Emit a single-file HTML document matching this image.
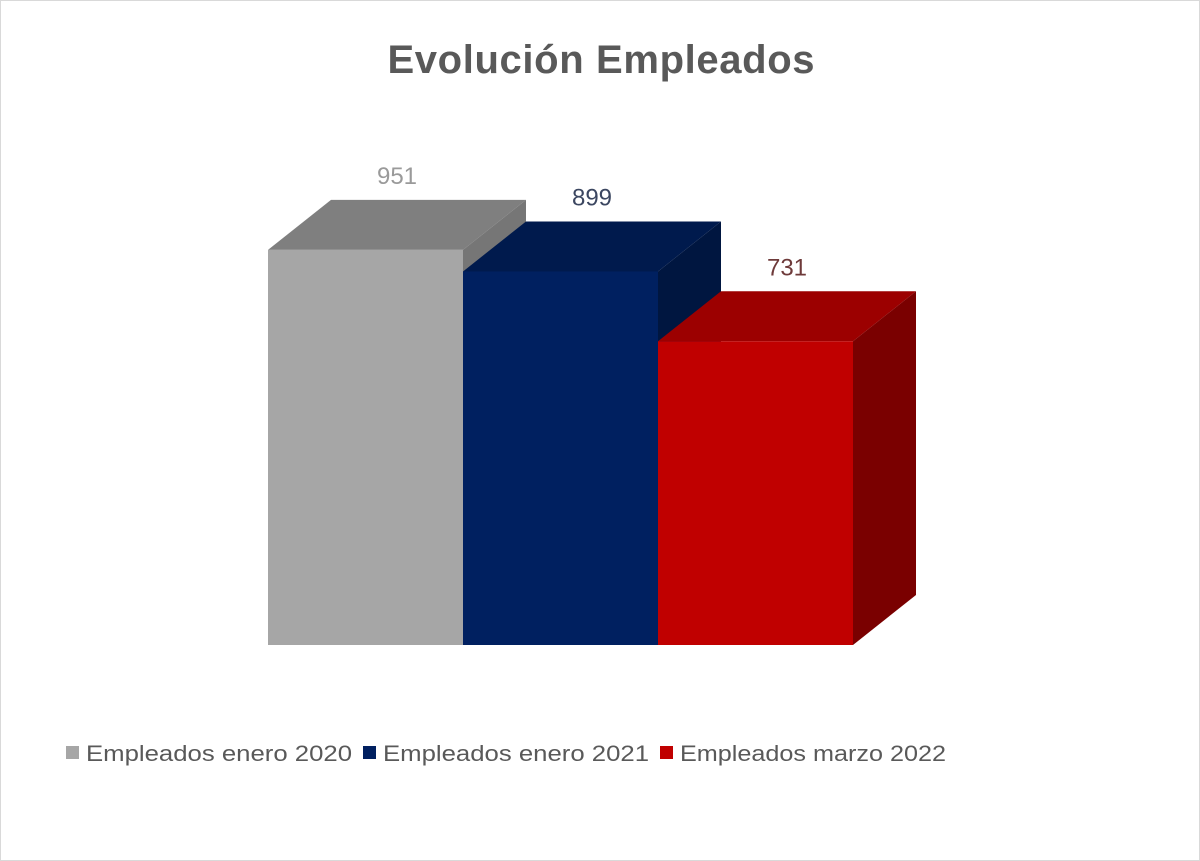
<!DOCTYPE html>
<html><head><meta charset="utf-8"><style>
body{margin:0;background:#fff;}
svg{display:block;font-family:"Liberation Sans",sans-serif;}
</style></head><body>
<svg width="1200" height="861">
<rect x="0.5" y="0.5" width="1199" height="860" fill="#fff" stroke="#d9d9d9"/>
<text x="601" y="73" text-anchor="middle" font-size="40" font-weight="bold" fill="#595959" textLength="427">Evolución Empleados</text>
<g id="bars"></g>
<g id="legend"></g>
</svg>
<script>
const categories=["Empleados enero 2020","Empleados enero 2021","Empleados marzo 2022"];
const values=[951,899,731];
const valueLabels=["951","899","731"];
const front=["#a6a6a6","#002060","#c00000"];
const topC=["#7f7f7f","#001a4d","#9c0000"];
const sideC=["#767676","#001640","#7a0000"];
const labelC=["#9a9a9a","#3b4660","#6e3a3a"];
const base=645, scale=0.4155, x0=268, bw=195, dx=63, dy=50;
const y=v=>base-v*scale;
const ns="http://www.w3.org/2000/svg";
const g=document.getElementById('bars');
function mk(t,a){const e=document.createElementNS(ns,t);for(const k in a)e.setAttribute(k,a[k]);return e;}
values.forEach((v,i)=>{
 const l=x0+i*bw, r=l+bw, t=y(v);
 const grp=mk('g',{});
 
 
 grp.appendChild(mk('polygon',{points:`${l},${t} ${l+dx},${t-dy} ${r+dx},${t-dy} ${r},${t}`,fill:topC[i]}));
 grp.appendChild(mk('polygon',{points:`${r},${t} ${r+dx},${t-dy} ${r+dx},${base-dy} ${r},${base}`,fill:sideC[i]}));
 grp.appendChild(mk('rect',{x:l,y:t,width:bw,height:base-t,fill:front[i]}));
 g.appendChild(grp);
 const tx=mk('text',{x:l+bw/2+dx/2,y:t-dy-16,'text-anchor':'middle','font-size':24,fill:labelC[i]});
 
 
 tx.textContent=valueLabels[i];
 g.appendChild(tx);
});
const lg=document.getElementById('legend');
const lx=[66,363,660];
categories.forEach((c,i)=>{
 const e=mk('g',{});
 
 
 e.appendChild(mk('rect',{x:lx[i],y:746,width:13,height:13,fill:front[i]}));
 const t=mk('text',{x:lx[i]+20,y:761,'font-size':22,fill:'#595959',textLength:266,lengthAdjust:'spacingAndGlyphs'});
 t.textContent=c;
 e.appendChild(t);
 lg.appendChild(e);
});
</script>
</body></html>
